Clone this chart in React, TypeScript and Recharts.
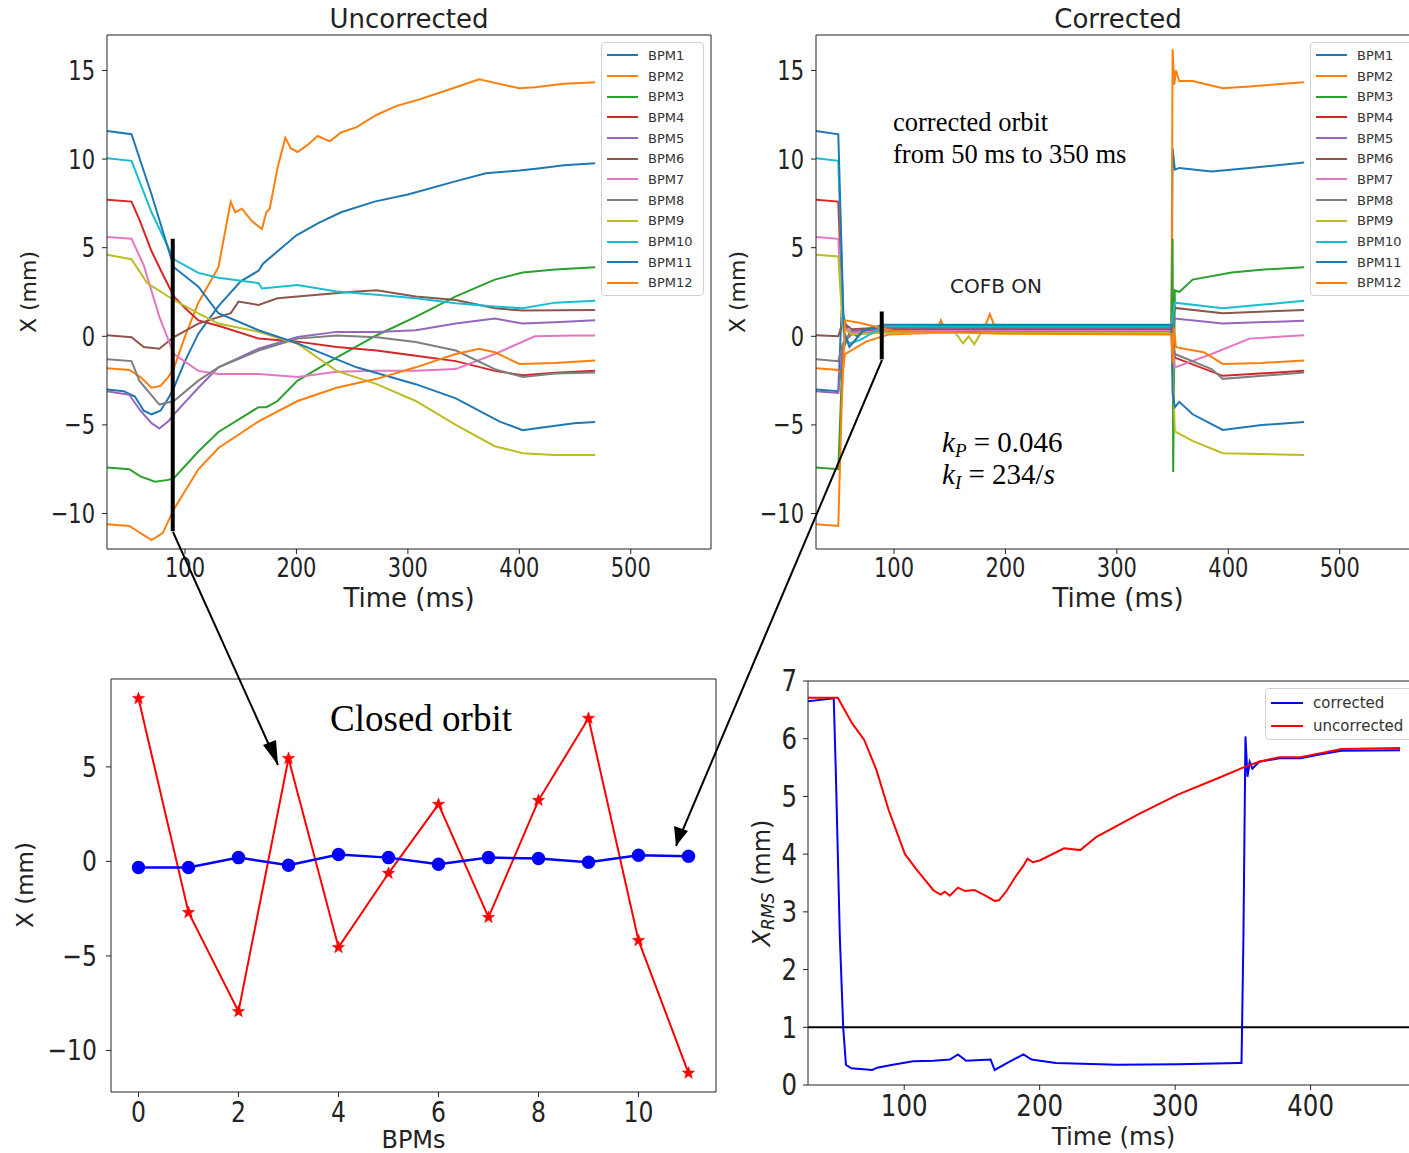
// Orbit correction figure — uncorrected / corrected BPM traces, closed orbit, RMS
import { LineChart, Line, XAxis, YAxis, ReferenceLine, Legend } from "recharts";

// ---- data -------------------------------------------------------------
const bpmNames = ["BPM1", "BPM2", "BPM3", "BPM4", "BPM5", "BPM6", "BPM7", "BPM8", "BPM9", "BPM10", "BPM11", "BPM12"];
const bpmColors = ["#1f77b4", "#ff7f0e", "#2ca02c", "#d62728", "#9467bd", "#8c564b", "#e377c2", "#7f7f7f", "#bcbd22", "#17becf", "#1f77b4", "#ff7f0e"];

// uncorrected orbit, [time ms, x mm]
const unc1 = [[30, -3.0], [45, -3.1], [55, -3.4], [63, -4.2], [70, -4.4], [78, -4.2], [85, -3.5], [90, -2.9], [100, -1.4], [112, 0.15], [130, 1.7], [150, 3.1], [166, 3.7], [170, 4.1], [200, 5.7], [220, 6.4], [240, 7.0], [270, 7.6], [300, 8.0], [340, 8.7], [370, 9.2], [400, 9.35], [415, 9.45], [440, 9.65], [468, 9.77]];
const unc2 = [[30, -1.8], [50, -1.9], [60, -2.3], [70, -2.9], [78, -2.8], [85, -2.3], [90, -1.8], [100, 0.0], [112, 1.9], [130, 3.9], [141, 7.6], [145, 7.0], [151, 7.2], [160, 6.5], [166, 6.2], [169, 6.05], [173, 7.0], [176, 7.2], [183, 9.5], [190, 11.2], [195, 10.6], [201, 10.4], [210, 10.8], [219, 11.3], [230, 11.0], [240, 11.5], [254, 11.8], [272, 12.5], [290, 13.0], [307, 13.3], [343, 14.05], [364, 14.5], [378, 14.3], [400, 14.0], [414, 14.05], [440, 14.25], [468, 14.34]];
const unc3 = [[30, -7.4], [50, -7.5], [60, -7.9], [73, -8.2], [85, -8.1], [90, -8.0], [112, -6.5], [130, -5.4], [166, -4.0], [173, -4.0], [183, -3.65], [201, -2.5], [236, -1.2], [272, 0.06], [307, 1.1], [343, 2.25], [378, 3.2], [403, 3.6], [432, 3.77], [468, 3.9]];
const unc4 = [[30, 7.7], [52, 7.6], [59, 6.6], [70, 4.8], [80, 3.5], [90, 2.25], [100, 1.6], [112, 0.9], [130, 0.6], [166, -0.13], [201, -0.3], [236, -0.6], [272, -0.8], [307, -1.1], [343, -1.4], [378, -1.95], [403, -2.2], [432, -2.05], [468, -1.95]];
const unc5 = [[30, -3.1], [50, -3.3], [60, -4.2], [70, -4.9], [77, -5.2], [85, -4.8], [90, -4.4], [112, -2.9], [130, -1.75], [166, -0.7], [201, -0.04], [236, 0.25], [272, 0.25], [307, 0.34], [343, 0.72], [378, 1.0], [403, 0.72], [432, 0.8], [468, 0.91]];
const unc6 = [[30, 0.06], [52, -0.05], [63, -0.6], [77, -0.7], [90, -0.04], [112, 0.72], [141, 1.3], [148, 1.96], [166, 1.77], [183, 2.15], [219, 2.34], [254, 2.53], [272, 2.6], [307, 2.25], [343, 2.05], [378, 1.58], [403, 1.45], [468, 1.49]];
const unc7 = [[30, 5.6], [52, 5.5], [63, 4.0], [77, 1.1], [90, -1.0], [112, -1.95], [130, -2.13], [166, -2.13], [201, -2.3], [236, -2.0], [272, -1.95], [307, -1.95], [343, -1.85], [378, -1.0], [414, 0.0], [449, 0.05], [468, 0.05]];
const unc8 = [[30, -1.3], [52, -1.4], [59, -2.5], [77, -3.85], [90, -3.65], [112, -2.5], [130, -1.75], [166, -0.8], [201, -0.13], [236, 0.05], [272, -0.05], [307, -0.32], [343, -0.8], [378, -1.85], [403, -2.3], [432, -2.1], [468, -2.04]];
const unc9 = [[30, 4.6], [52, 4.35], [66, 3.0], [90, 2.05], [112, 1.3], [130, 0.72], [166, 0.25], [201, -0.42], [236, -1.95], [272, -2.7], [307, -3.65], [343, -5.0], [378, -6.2], [403, -6.6], [432, -6.7], [468, -6.7]];
const unc10 = [[30, 10.05], [52, 9.9], [70, 7.0], [90, 4.34], [112, 3.58], [130, 3.3], [166, 3.0], [169, 2.7], [201, 2.9], [236, 2.53], [272, 2.34], [307, 2.15], [343, 1.87], [378, 1.68], [403, 1.58], [432, 1.9], [468, 2.0]];
const unc11 = [[30, 11.58], [52, 11.4], [70, 8.0], [90, 3.9], [112, 2.8], [130, 1.3], [166, 0.34], [201, -0.4], [254, -1.75], [307, -2.7], [343, -3.5], [382, -4.8], [403, -5.3], [414, -5.2], [449, -4.9], [468, -4.84]];
const unc12 = [[30, -10.6], [50, -10.7], [70, -11.5], [80, -11.1], [90, -9.75], [112, -7.5], [130, -6.3], [166, -4.8], [201, -3.65], [236, -2.9], [272, -2.4], [307, -1.75], [343, -1.0], [364, -0.7], [378, -0.9], [400, -1.56], [432, -1.5], [468, -1.37]];

// corrected orbit (feedback on 50..350 ms)
const cor1 = [[30, -3.0], [50, -3.1], [53, 1.5], [58, 0.4], [67, 0.0], [80, 0.5], [150, 0.6], [250, 0.62], [349, 0.6], [350, 10.6], [352, 9.4], [356, 9.5], [385, 9.3], [419, 9.5], [468, 9.8]];
const cor2 = [[30, -1.8], [50, -1.9], [53, -2.5], [56, -1.0], [75, -0.3], [95, 0.1], [138, 0.2], [142, 0.9], [146, 0.3], [180, 0.3], [186, 1.25], [192, 0.3], [250, 0.2], [349, 0.2], [350, 16.2], [351.5, 14.2], [353, 15.0], [356, 14.4], [368, 14.4], [395, 14.0], [419, 14.1], [468, 14.34]];
const cor3 = [[30, -7.4], [50, -7.5], [54, -0.8], [60, 0.2], [90, 0.35], [200, 0.4], [349, 0.4], [350, 5.5], [350.5, -7.65], [352, 2.6], [356, 2.5], [368, 3.2], [403, 3.6], [432, 3.77], [468, 3.9]];
const cor4 = [[30, 7.7], [50, 7.6], [54, 0.9], [60, 0.2], [90, 0.35], [200, 0.35], [349, 0.35], [352, -1.2], [395, -2.23], [468, -1.95]];
const cor5 = [[30, -3.1], [50, -3.2], [54, -0.5], [62, 0.3], [90, 0.45], [200, 0.45], [349, 0.45], [352, 1.0], [395, 0.72], [468, 0.88]];
const cor6 = [[30, 0.06], [50, 0.0], [54, 0.8], [62, 0.4], [90, 0.5], [200, 0.5], [349, 0.5], [352, 1.6], [395, 1.3], [468, 1.49]];
const cor7 = [[30, 5.6], [50, 5.5], [54, 0.6], [62, 0.2], [90, 0.3], [200, 0.3], [349, 0.3], [352, -1.75], [385, -1.0], [419, -0.13], [468, 0.06]];
const cor8 = [[30, -1.3], [50, -1.4], [54, -0.4], [62, 0.1], [90, 0.25], [200, 0.25], [349, 0.25], [352, -1.0], [385, -1.85], [395, -2.4], [468, -2.04]];
const cor9 = [[30, 4.6], [50, 4.5], [54, 0.5], [62, 0.1], [90, 0.2], [155, 0.2], [162, -0.4], [167, 0.0], [172, -0.45], [178, 0.2], [349, 0.2], [352, -5.37], [368, -5.9], [395, -6.6], [468, -6.7]];
const cor10 = [[30, 10.05], [50, 9.9], [55, 0.0], [60, -0.4], [70, -0.2], [90, 0.55], [200, 0.55], [349, 0.55], [352, 1.9], [395, 1.58], [468, 2.0]];
const cor11 = [[30, 11.58], [50, 11.4], [55, 0.3], [60, -0.6], [72, 0.3], [90, 0.65], [200, 0.65], [349, 0.65], [350, -3.2], [352, -4.0], [356, -3.7], [368, -4.4], [395, -5.28], [430, -5.0], [468, -4.84]];
const cor12 = [[30, -10.6], [50, -10.7], [53, -4.0], [56, 0.9], [70, 0.75], [80, 0.6], [100, 0.3], [200, 0.15], [349, 0.1], [350, -1.5], [351, 0.5], [353, -0.6], [360, -0.7], [378, -0.9], [395, -1.56], [430, -1.5], [468, -1.37]];

const uncorrectedSeries = [unc1, unc2, unc3, unc4, unc5, unc6, unc7, unc8, unc9, unc10, unc11, unc12];
const correctedSeries = [cor1, cor2, cor3, cor4, cor5, cor6, cor7, cor8, cor9, cor10, cor11, cor12];

// closed orbit at t = 90 ms
const bpmIndex = [0, 1, 2, 3, 4, 5, 6, 7, 8, 9, 10, 11];
const orbitUncorrected = [8.62, -2.7, -7.94, 5.45, -4.55, -0.63, 3.02, -2.96, 3.23, 7.57, -4.18, -11.2];
const orbitCorrected = [-0.32, -0.32, 0.2, -0.2, 0.37, 0.2, -0.15, 0.2, 0.15, -0.05, 0.32, 0.27];

// RMS orbit
const rmsUncorrected = [[29, 6.71], [51, 6.71], [61.5, 6.27], [70.5, 5.98], [79.5, 5.46], [88.6, 4.76], [100.6, 4.0], [109.6, 3.72], [121.7, 3.37], [127, 3.3], [130, 3.35], [133.7, 3.28], [139.7, 3.42], [145, 3.36], [151.8, 3.38], [160, 3.28], [166.8, 3.19], [170, 3.2], [175.8, 3.37], [181.9, 3.6], [188, 3.8], [191, 3.92], [195, 3.86], [200, 3.89], [218, 4.1], [230, 4.07], [242, 4.3], [272, 4.68], [302, 5.03], [332, 5.32], [350, 5.5], [362, 5.6], [377, 5.68], [392.5, 5.68], [407.5, 5.75], [422.6, 5.82], [466, 5.84]];
const rmsCorrected = [[29, 6.65], [48, 6.7], [49.5, 5.46], [52.5, 2.56], [55, 0.99], [57, 0.35], [61, 0.29], [76.5, 0.26], [80, 0.3], [91.6, 0.35], [106.6, 0.41], [121.7, 0.42], [133.7, 0.44], [139.7, 0.53], [145.7, 0.42], [163.8, 0.44], [166.8, 0.26], [175.8, 0.38], [188, 0.53], [194, 0.44], [212, 0.38], [257, 0.35], [302, 0.36], [347, 0.38], [349, 0.38], [350.4, 2.55], [351.9, 6.04], [353.4, 5.34], [355, 5.6], [357, 5.48], [362, 5.6], [377, 5.66], [392.5, 5.66], [407.5, 5.73], [422.6, 5.79], [466, 5.8]];

const timeTicks = [100, 200, 300, 400, 500];
const xTicks = [-10, -5, 0, 5, 10, 15];
const bpmTicks = [0, 2, 4, 6, 8, 10];
const orbitTicks = [-10, -5, 0, 5];
const rmsTimeTicks = [100, 200, 300, 400];
const rmsTicks = [0, 1, 2, 3, 4, 5, 6, 7];

// ---- helpers ----------------------------------------------------------
const FONT = "DejaVu Sans, sans-serif";
const SERIF = "Liberation Serif, Times New Roman, serif";
const INK = "#222";
const toPts = (a: number[][]) => a.map(([t, v]) => ({ t, v }));
const minus = (v: number) => String(v).replace("-", "\u2212");

// tick labels in the source are slightly stretched vertically
const Tick = ({ x, y, payload, size, sy, anchor }: any) => (
  <g transform={`translate(${x},${y}) scale(1,${sy})`}>
    <text x={0} y={0} textAnchor={anchor} dominantBaseline="central" fontSize={size} fontFamily={FONT} fill={INK}>
      {minus(payload.value)}
    </text>
  </g>
);

const VTitle = ({ x0, cy, size, children }: any) => (
  <text x={x0} y={cy} transform={`rotate(-90 ${x0} ${cy})`} textAnchor="middle" dominantBaseline="central"
    fontFamily={FONT} fontSize={size} fill={INK}>{children}</text>
);

const BoxLegend = ({ payload, order, fontSize, rowH, lineW, width }: any) => {
  const items = [...(payload || [])].sort((a: any, b: any) => order.indexOf(a.value) - order.indexOf(b.value));
  return (
    <div style={{ width, boxSizing: "border-box", background: "rgba(255,255,255,0.85)", border: "1px solid #d0d0d0", borderRadius: 4, padding: "2px 5px", fontFamily: FONT, fontSize, color: "#333" }}>
      {items.map((p: any, i: number) => (
        <div key={i} style={{ display: "flex", alignItems: "center", height: rowH }}>
          <span style={{ display: "inline-block", width: lineW, height: 2, background: p.color, marginRight: 10 }} />
          <span>{p.value}</span>
        </div>
      ))}
    </div>
  );
};

const Star = (props: any) => {
  const { cx, cy } = props;
  if (cx == null || cy == null) return null;
  const pts: string[] = [];
  for (let i = 0; i < 10; i++) {
    const r = i % 2 === 0 ? 6.5 : 2.7;
    const a = -Math.PI / 2 + (i * Math.PI) / 5;
    pts.push(`${cx + r * Math.cos(a)},${cy + r * Math.sin(a)}`);
  }
  return <polygon key={`s${props.index}`} points={pts.join(" ")} fill="#ff0000" stroke="#ff0000" strokeWidth={0.5} />;
};

const frame = { stroke: INK, strokeWidth: 1, ifOverflow: "visible" as const };

function OrbitPanel({ series, left, bar }: { series: number[][][]; left: number; bar: number[] }) {
  return (
    <div style={{ position: "absolute", left, top: 0 }}>
      <LineChart width={720} height={620} margin={{ top: 35, right: 9, left: 47, bottom: 1 }}>
        <XAxis dataKey="t" type="number" domain={[30, 572]} ticks={timeTicks} allowDataOverflow
          stroke={INK} tickSize={5} tickMargin={13} tick={<Tick size={21} sy={1.3} anchor="middle" />} height={70}
          label={{ value: "Time (ms)", position: "insideBottom", offset: 12, fontSize: 26, fontFamily: FONT, fill: INK }} />
        <YAxis type="number" domain={[-12, 17]} ticks={xTicks} allowDataOverflow width={60}
          stroke={INK} tickSize={5} tickMargin={7} tick={<Tick size={21} sy={1.3} anchor="end" />}
          label={<VTitle x0={28} cy={292} size={22}>X (mm)</VTitle>} />
        <ReferenceLine y={17} {...frame} />
        <ReferenceLine x={572} {...frame} />
        {series.map((s, i) => (
          <Line key={i} data={toPts(s)} dataKey="v" name={bpmNames[i]} stroke={bpmColors[i]}
            strokeWidth={2} dot={false} type="linear" isAnimationActive={false} />
        ))}
        <ReferenceLine segment={[{ x: 89, y: bar[0] }, { x: 89, y: bar[1] }]} stroke="#000" strokeWidth={4} />
        <Legend layout="vertical" align="center" verticalAlign="middle"
          wrapperStyle={{ left: 601, top: 42, width: 103 }}
          content={(p: any) => <BoxLegend payload={p.payload} order={bpmNames} fontSize={13} rowH={20.7} lineW={31} width={103} />} />
      </LineChart>
    </div>
  );
}

export default function App() {
  const orbitData = bpmIndex.map((i) => ({ bpm: i, uncorrected: orbitUncorrected[i], corrected: orbitCorrected[i] }));

  return (
    <div style={{ position: "fixed", left: 0, top: 0, width: 1409, height: 1153, overflow: "hidden", background: "#fff", fontFamily: FONT }}>
      <OrbitPanel series={uncorrectedSeries} left={0} bar={[5.5, -11]} />
      <OrbitPanel series={correctedSeries} left={709} bar={[1.4, -1.3]} />

      {/* closed orbit */}
      <div style={{ position: "absolute", left: 0, top: 640 }}>
        <LineChart width={725} height={513} data={orbitData} margin={{ top: 39, right: 9, left: 51, bottom: 0 }}>
          <XAxis dataKey="bpm" type="number" domain={[-0.55, 11.55]} ticks={bpmTicks} allowDataOverflow
            stroke={INK} tickSize={5} tickMargin={15} tick={<Tick size={23.5} sy={1.22} anchor="middle" />} height={61}
            label={{ value: "BPMs", position: "insideBottom", offset: 5, fontSize: 24, fontFamily: FONT, fill: INK }} />
          <YAxis type="number" domain={[-12.2, 9.65]} ticks={orbitTicks} allowDataOverflow width={60}
            stroke={INK} tickSize={5} tickMargin={9} tick={<Tick size={23.5} sy={1.22} anchor="end" />}
            label={<VTitle x0={25} cy={245} size={23}>X (mm)</VTitle>} />
          <ReferenceLine y={9.65} {...frame} />
          <ReferenceLine x={11.55} {...frame} />
          <Line dataKey="uncorrected" stroke="#ff0000" strokeWidth={2} dot={Star} type="linear" isAnimationActive={false} />
          <Line dataKey="corrected" stroke="#0000ff" strokeWidth={2.5} dot={{ r: 5.5, fill: "#0000ff", stroke: "#0000ff" }} type="linear" isAnimationActive={false} />
        </LineChart>
      </div>

      {/* RMS */}
      <div style={{ position: "absolute", left: 740, top: 640 }}>
        <LineChart width={690} height={513} margin={{ top: 41, right: 11, left: 8, bottom: 0 }}>
          <XAxis dataKey="t" type="number" domain={[29, 480]} ticks={rmsTimeTicks} allowDataOverflow
            stroke={INK} tickSize={5} tickMargin={16} tick={<Tick size={24.5} sy={1.22} anchor="middle" />} height={68}
            label={{ value: "Time (ms)", position: "insideBottom", offset: 8, fontSize: 24.5, fontFamily: FONT, fill: INK }} />
          <YAxis type="number" domain={[0, 7]} ticks={rmsTicks} allowDataOverflow width={60}
            stroke={INK} tickSize={5} tickMargin={6} tick={<Tick size={24.5} sy={1.22} anchor="end" />}
            label={
              <VTitle x0={22} cy={243} size={24}>
                <tspan fontStyle="italic">X</tspan>
                <tspan fontStyle="italic" fontSize={17} dy={6}>RMS</tspan>
                <tspan dy={-6}> (mm)</tspan>
              </VTitle>
            } />
          <ReferenceLine y={7} {...frame} />
          <ReferenceLine y={1} stroke="#000" strokeWidth={2} />
          <Line data={toPts(rmsCorrected)} dataKey="v" name="corrected" stroke="#0000ff" strokeWidth={2} dot={false} type="linear" isAnimationActive={false} />
          <Line data={toPts(rmsUncorrected)} dataKey="v" name="uncorrected" stroke="#ff0000" strokeWidth={2} dot={false} type="linear" isAnimationActive={false} />
          <Legend layout="vertical" align="center" verticalAlign="middle"
            wrapperStyle={{ left: 525, top: 48, width: 160 }}
            content={(p: any) => <BoxLegend payload={p.payload} order={["corrected", "uncorrected"]} fontSize={15} rowH={23} lineW={32} width={160} />} />
        </LineChart>
      </div>

      {/* titles, annotations and arrows */}
      <svg width={1409} height={1153} style={{ position: "absolute", left: 0, top: 0, pointerEvents: "none" }}>
        <text x={409} y={28} textAnchor="middle" fontFamily={FONT} fontSize={26} fill={INK}>Uncorrected</text>
        <text x={1118} y={28} textAnchor="middle" fontFamily={FONT} fontSize={26} fill={INK}>Corrected</text>
        <line x1={173} y1={532} x2={278} y2={765} stroke="#000" strokeWidth={2} />
        <polygon points="278,765 263,745 276,740" fill="#000" />
        <line x1={882} y1={360} x2={676} y2={846} stroke="#000" strokeWidth={2} />
        <polygon points="676,846 674,826 688,831" fill="#000" />
        <text x={893} y={131} fontFamily={SERIF} fontSize={26.5} fill="#000">corrected orbit</text>
        <text x={893} y={163} fontFamily={SERIF} fontSize={26.5} fill="#000">from 50 ms to 350 ms</text>
        <text x={996} y={293} textAnchor="middle" fontFamily={FONT} fontSize={20} fill="#222">COFB ON</text>
        <text x={942} y={452} fontFamily={SERIF} fontSize={29} fill="#000">
          <tspan fontStyle="italic">k</tspan><tspan fontStyle="italic" fontSize={19} dy={5}>P</tspan><tspan dy={-5}> = 0.046</tspan>
        </text>
        <text x={942} y={484} fontFamily={SERIF} fontSize={29} fill="#000">
          <tspan fontStyle="italic">k</tspan><tspan fontStyle="italic" fontSize={19} dy={5}>I</tspan><tspan dy={-5}> = 234/</tspan><tspan fontStyle="italic">s</tspan>
        </text>
        <text x={421} y={731} textAnchor="middle" fontFamily={SERIF} fontSize={37} fill="#000">Closed orbit</text>
      </svg>
    </div>
  );
}
